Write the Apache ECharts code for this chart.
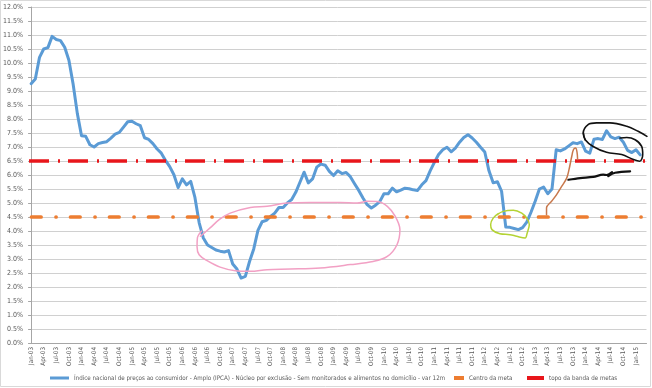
<!DOCTYPE html>
<html><head><meta charset="utf-8">
<script src="https://cdn.jsdelivr.net/npm/echarts@6/dist/echarts.min.js"></script>
<style>html,body{margin:0;padding:0;background:#fff}#c{width:652px;height:388px}</style>
</head><body><div id="c"></div>
<script>
const categories = [
 'Jan-03','Feb-03','Mar-03','Apr-03','May-03','Jun-03','Jul-03','Aug-03','Sep-03','Oct-03','Nov-03','Dec-03',
 'Jan-04','Feb-04','Mar-04','Apr-04','May-04','Jun-04','Jul-04','Aug-04','Sep-04','Oct-04','Nov-04','Dec-04',
 'Jan-05','Feb-05','Mar-05','Apr-05','May-05','Jun-05','Jul-05','Aug-05','Sep-05','Oct-05','Nov-05','Dec-05',
 'Jan-06','Feb-06','Mar-06','Apr-06','May-06','Jun-06','Jul-06','Aug-06','Sep-06','Oct-06','Nov-06','Dec-06',
 'Jan-07','Feb-07','Mar-07','Apr-07','May-07','Jun-07','Jul-07','Aug-07','Sep-07','Oct-07','Nov-07','Dec-07',
 'Jan-08','Feb-08','Mar-08','Apr-08','May-08','Jun-08','Jul-08','Aug-08','Sep-08','Oct-08','Nov-08','Dec-08',
 'Jan-09','Feb-09','Mar-09','Apr-09','May-09','Jun-09','Jul-09','Aug-09','Sep-09','Oct-09','Nov-09','Dec-09',
 'Jan-10','Feb-10','Mar-10','Apr-10','May-10','Jun-10','Jul-10','Aug-10','Sep-10','Oct-10','Nov-10','Dec-10',
 'Jan-11','Feb-11','Mar-11','Apr-11','May-11','Jun-11','Jul-11','Aug-11','Sep-11','Oct-11','Nov-11','Dec-11',
 'Jan-12','Feb-12','Mar-12','Apr-12','May-12','Jun-12','Jul-12','Aug-12','Sep-12','Oct-12','Nov-12','Dec-12',
 'Jan-13','Feb-13','Mar-13','Apr-13','May-13','Jun-13','Jul-13','Aug-13','Sep-13','Oct-13','Nov-13','Dec-13',
 'Jan-14','Feb-14','Mar-14','Apr-14','May-14','Jun-14','Jul-14','Aug-14','Sep-14','Oct-14','Nov-14','Dec-14',
 'Jan-15','Feb-15','Mar-15'
];
const ipcaNucleo = [
 9.26, 9.43, 10.2, 10.5, 10.55, 10.95, 10.84, 10.8, 10.56, 10.1, 9.25, 8.2,
 7.4, 7.38, 7.08, 7.0, 7.12, 7.16, 7.19, 7.32, 7.46, 7.52, 7.71, 7.9,
 7.92, 7.83, 7.76, 7.33, 7.27, 7.12, 6.93, 6.78, 6.52, 6.3, 6.01, 5.55,
 5.86, 5.65, 5.77, 5.2, 4.3, 3.75, 3.5, 3.41, 3.32, 3.28, 3.25, 3.3,
 2.82, 2.64, 2.32, 2.38, 2.91, 3.36, 4.02, 4.33, 4.38, 4.52, 4.64, 4.84,
 4.84, 5.0, 5.12, 5.38, 5.74, 6.1, 5.72, 5.86, 6.28, 6.39, 6.35, 6.13,
 5.98, 6.15, 6.05, 6.09, 5.94, 5.69, 5.45, 5.18, 4.94, 4.82, 4.92, 5.05,
 5.33, 5.33, 5.53, 5.4, 5.46, 5.53, 5.51, 5.47, 5.45, 5.65, 5.8, 6.15,
 6.45, 6.73, 6.9, 6.99, 6.83, 6.96, 7.17, 7.34, 7.44, 7.32, 7.17, 6.99,
 6.82, 6.15, 5.72, 5.76, 5.42, 4.14, 4.13, 4.09, 4.05, 4.12, 4.32, 4.67,
 5.06, 5.5, 5.57, 5.33, 5.5, 6.9, 6.86, 6.93, 7.04, 7.15, 7.12, 7.18,
 6.85, 6.78, 7.28, 7.3, 7.27, 7.58, 7.36, 7.3, 7.35, 7.17, 6.88, 6.8,
 6.9, 6.72, null
];
const centroDaMeta = 4.5;
const topoDaBanda = 6.5;
const yMin = 0, yMax = 12, yStep = 0.5;

// hand-drawn annotations: [month index, % value]
const pinkLoop = [[40.3,3.81],[42.6,4.11],[45.0,4.43],[47.4,4.64],[52.2,4.84],[56.2,4.88],[61.0,5.0],[66.4,5.02],[73.6,5.02],[77.6,5.0],[80.0,5.06],[82.4,5.05],[84.8,4.88],[86.7,4.52],[87.8,4.05],[87.1,3.51],[84.8,3.09],[81.4,2.91],[76.0,2.80],[68.8,2.68],[61.7,2.64],[56.2,2.62],[52.2,2.56],[48.6,2.58],[45.0,2.71],[41.9,2.94],[40.0,3.15],[39.5,3.45],[39.6,3.76],[40.6,4.0]];
const greenLoop = [[110.9,4.58],[112.4,4.70],[114.8,4.74],[116.8,4.64],[118.0,4.46],[118.6,4.23],[118.1,3.93],[117.6,3.75],[115.6,3.81],[114.0,3.87],[111.6,3.90],[109.7,4.05],[109.4,4.23],[110.0,4.46],[111.2,4.62]];
const brownStroke = [[122.7,4.58],[122.7,4.83],[123.9,5.06],[125.1,5.30],[126.3,5.59],[127.5,5.89],[128.05,6.19],[128.7,6.66],[129.1,6.90],[129.6,6.96],[129.95,6.83],[130.1,6.55]];
const blackLoop = [[131.9,7.26],[131.45,7.5],[132.6,7.8],[134.6,7.86],[137.8,7.86],[141.8,7.74],[144.5,7.56],[146.6,7.38]];
const blackLoop2 = [[131.45,7.5],[131.9,7.26],[133.8,7.02],[137.0,6.81],[140.6,6.73],[143.4,6.55],[144.9,6.49],[145.6,6.73],[145.35,7.02],[143.8,7.26],[141.8,7.34],[140.2,7.32]];
const blackArrow = [[127.9,5.83],[130.7,5.89],[133.8,5.93],[136.2,6.01],[137.0,6.0],[138.3,6.1],[137.4,5.96],[139.0,6.08],[142.6,6.13]];

const nameA = 'Índice nacional de preços ao consumidor - Amplo (IPCA) - Núcleo por exclusão - Sem monitorados e alimentos no domicílio - var 12m';
const nameB = 'Centro da meta';
const nameC = 'topo da banda de metas';

const FONT = "'DejaVu Sans Condensed','Liberation Sans Narrow',sans-serif";
const chart = echarts.init(document.getElementById('c'), null, {renderer: 'canvas'});
function annot(data, color, w) {
  return {type: 'line', xAxisIndex: 1, data: data, smooth: 0.35, showSymbol: false, silent: true,
    clip: false, lineStyle: {color: color, width: w, cap: 'round', join: 'round'}, z: 10};
}
const legendText = {fontFamily: FONT, fontSize: 6.2, color: '#595959'};
chart.setOption({
  animation: false,
  backgroundColor: '#fff',
  graphic: [{type: 'rect', shape: {x: 0.5, y: 0.5, width: 650, height: 386},
    style: {fill: null, stroke: '#d9d9d9', lineWidth: 1}, silent: true}],
  grid: {left: 28.5, right: 5.5, top: 7, bottom: 45},
  legend: [
    {data: [nameA], left: 45, top: 370, icon: 'rect', itemWidth: 19, itemHeight: 3, textStyle: legendText},
    {data: [nameB], left: 449, top: 370, icon: 'rect', itemWidth: 10, itemHeight: 4, textStyle: legendText},
    {data: [nameC], left: 522, top: 370, icon: 'rect', itemWidth: 17, itemHeight: 4, textStyle: legendText}
  ],
  xAxis: [{
    type: 'category', data: categories, boundaryGap: true,
    axisLine: {lineStyle: {color: '#a6a6a6'}},
    axisTick: {interval: 2, length: 4, lineStyle: {color: '#a6a6a6'}},
    axisLabel: {interval: 2, rotate: 90, fontFamily: FONT, fontSize: 6.3, color: '#595959', margin: 4},
    splitLine: {show: false}
  }, {
    type: 'value', min: -0.5, max: categories.length - 0.5, show: false
  }],
  yAxis: {
    type: 'value', min: yMin, max: yMax, interval: yStep,
    axisLine: {show: true, lineStyle: {color: '#a6a6a6'}},
    axisTick: {show: true, length: 3, lineStyle: {color: '#a6a6a6'}},
    axisLabel: {formatter: v => v.toFixed(1) + '%', fontFamily: FONT, fontSize: 7, color: '#595959', margin: 6},
    splitLine: {lineStyle: {color: '#d0d0d0', width: 1}}
  },
  series: [
    {name: nameA, type: 'line', data: ipcaNucleo, showSymbol: false, color: '#5b9bd5',
      lineStyle: {width: 3, color: '#5b9bd5', join: 'round', cap: 'round'}, z: 2},
    {name: nameB, type: 'line', data: [], color: '#ed7d31', z: 3,
      markLine: {silent: true, symbol: 'none', label: {show: false},
        lineStyle: {color: '#ed7d31', width: 3.7, type: [9.6, 14.9, 0.1, 14.4], dashOffset: 36.5, cap: 'round'},
        emphasis: {disabled: true},
        data: [{yAxis: centroDaMeta}]}},
    {name: nameC, type: 'line', data: [], color: '#e8161b', z: 4,
      markLine: {silent: true, symbol: 'none', label: {show: false},
        lineStyle: {color: '#e8161b', width: 3.5, type: [20, 9, 2, 8], dashOffset: 0, cap: 'butt'},
        emphasis: {disabled: true},
        data: [{yAxis: topoDaBanda}]}},
    annot(pinkLoop, '#f2a0c4', 1.5),
    annot(greenLoop, '#b4d334', 1.5),
    annot(brownStroke, '#c8784c', 1.5),
    annot(blackLoop, '#111', 1.6),
    annot(blackLoop2, '#111', 1.6),
    annot(blackArrow, '#111', 2.2)
  ]
});
</script></body></html>
